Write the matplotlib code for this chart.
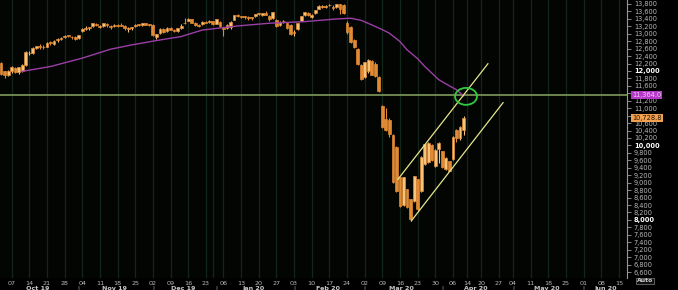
import numpy as np
import pandas as pd
import matplotlib
matplotlib.use("Agg")
import matplotlib.pyplot as plt
from matplotlib.patches import Ellipse, Rectangle

# trading days (Xetra calendar), first candle 2019-10-02
holidays = ["2019-12-24", "2019-12-25", "2019-12-26", "2019-12-31", "2020-01-01",
            "2020-04-10", "2020-04-13", "2020-05-01"]
all_days = pd.bdate_range("2019-10-02", "2020-06-30")
all_days = all_days[~all_days.isin(pd.to_datetime(holidays))]

# --- daily candles, Oct 02 2019 .. Apr 09 2020 ---
opens = [12220, 11990, 11900, 11990, 12090, 11960, 12000, 12150, 12480, 12470,
         12620, 12680, 12650, 12650, 12760, 12730, 12820, 12860, 12900, 12950,
         12920, 12920, 12890, 13080, 13140, 13150, 13220, 13270, 13180, 13210,
         13260, 13200, 13200, 13230, 13240, 13210, 13130, 13160, 13200, 13250,
         13240, 13280, 13250, 13240, 12900, 13020, 13140, 13080, 13150, 13100,
         13080, 13150, 13300, 13350, 13400, 13290, 13230, 13250, 13320, 13320,
         13330, 13270, 13320, 13140, 13150, 13180, 13380, 13500, 13480, 13460,
         13440, 13440, 13480, 13530, 13510, 13560, 13490, 13420, 13380, 13230,
         13330, 13300, 13230, 13010, 13120, 13350, 13500, 13560, 13460, 13560,
         13670, 13720, 13730, 13770, 13730, 13720, 13790, 13770, 13300, 13180,
         12830, 12600, 12160, 11830, 12000, 12280, 12200, 11840, 11050, 10700,
         10680, 10280, 9950, 9140, 8400, 8820, 8550, 8500, 9090, 8770,
         9500, 9550, 10020, 9450, 9900, 9840, 9380, 9570, 9630, 10420,
         10200, 10420]
highs = [12240, 12010, 12030, 12130, 12120, 12110, 12180, 12550, 12530, 12650,
         12680, 12730, 12690, 12770, 12800, 12820, 12890, 12900, 12960, 12970,
         12950, 12950, 12980, 13150, 13200, 13190, 13300, 13290, 13230, 13300,
         13280, 13240, 13250, 13270, 13300, 13240, 13170, 13190, 13260, 13270,
         13300, 13300, 13270, 13270, 13000, 13150, 13160, 13180, 13170, 13130,
         13150, 13250, 13420, 13425, 13410, 13310, 13260, 13330, 13340, 13370,
         13340, 13390, 13340, 13170, 13250, 13330, 13500, 13530, 13490, 13490,
         13470, 13460, 13540, 13560, 13560, 13600, 13510, 13590, 13390, 13340,
         13370, 13320, 13250, 13100, 13300, 13490, 13590, 13580, 13520, 13640,
         13760, 13760, 13760, 13800, 13760, 13800, 13800, 13790, 13350, 13200,
         12850, 12620, 12180, 12250, 12310, 12300, 12230, 11860, 11080, 11000,
         10750, 10300, 9990, 9160, 9160, 8840, 8560, 9180, 9100, 9720,
         10050, 10080, 10040, 9900, 10080, 9860, 9680, 9590, 10250, 10440,
         10520, 10780]
lows = [11900, 11820, 11870, 11950, 11940, 11930, 11980, 12130, 12420, 12450,
        12580, 12600, 12590, 12640, 12700, 12700, 12780, 12820, 12880, 12900,
        12860, 12840, 12860, 13060, 13110, 13110, 13190, 13200, 13150, 13190,
        13190, 13140, 13180, 13190, 13200, 13110, 13050, 13100, 13180, 13210,
        13220, 13230, 13200, 12950, 12860, 13000, 13030, 13060, 13090, 13040,
        13060, 13120, 13250, 13330, 13280, 13210, 13170, 13230, 13280, 13300,
        13230, 13260, 13180, 12950, 13130, 13140, 13370, 13460, 13420, 13400,
        13380, 13380, 13460, 13500, 13470, 13500, 13330, 13400, 13180, 13200,
        13290, 13120, 12970, 12950, 13110, 13330, 13480, 13480, 13430, 13540,
        13660, 13680, 13700, 13740, 13630, 13700, 13540, 13540, 13000, 12750,
        12620, 12160, 11760, 11800, 11940, 11880, 11830, 11430, 10470, 10380,
        10230, 8980, 8760, 8340, 8380, 8320, 7970, 8470, 8240, 8750,
        9470, 9520, 9570, 9430, 9520, 9390, 9340, 9300, 9610, 10100,
        10150, 10280]
closes = [11925, 11880, 12013, 12097, 11970, 12094, 12164, 12512, 12486, 12630,
          12670, 12654, 12634, 12748, 12754, 12799, 12872, 12895, 12941, 12940,
          12910, 12867, 12961, 13136, 13148, 13179, 13289, 13228, 13198, 13283,
          13230, 13180, 13241, 13207, 13221, 13160, 13137, 13163, 13246, 13236,
          13287, 13245, 13236, 12965, 12989, 13141, 13055, 13167, 13106, 13071,
          13145, 13221, 13283, 13407, 13288, 13222, 13212, 13319, 13300, 13337,
          13249, 13386, 13219, 13127, 13227, 13321, 13495, 13483, 13452, 13456,
          13432, 13430, 13526, 13549, 13556, 13515, 13388, 13577, 13205, 13324,
          13345, 13158, 12982, 13046, 13282, 13479, 13575, 13514, 13494, 13627,
          13750, 13745, 13744, 13784, 13682, 13789, 13665, 13560, 13050, 12770,
          12640, 12180, 11780, 12230, 12290, 11900, 11860, 11450, 10500, 10420,
          10300, 9010, 8780, 8370, 9140, 8340, 8020, 9170, 8300, 9700,
          10030, 10070, 9600, 9890, 10060, 9410, 9660, 9320, 10240, 10200,
          10500, 10730]

ma_idx = [6, 14, 23, 31, 37, 44, 51, 57, 67, 76, 86, 95, 99, 102, 105, 108, 110,
          113, 115, 118, 120, 124, 127, 129, 131]
ma_val = [11990, 12120, 12345, 12585, 12700, 12818, 12925, 13100, 13210, 13283,
          13326, 13398, 13417, 13360, 13238, 13110, 13015, 12790, 12569, 12330,
          12122, 11765, 11600, 11498, 11330]

level = 11364          # horizontal line
last_label = "10,728.8"
level_label = "11,364.0"
chan_upper = [(112.4, 9089), (137.9, 12194)]
chan_lower = [(116.2, 7973), (142.2, 11150)]
circle_at = (131.7, 11318)

n = len(closes)
x = np.arange(n)
ix0 = 3  # Oct 07

fig = plt.figure(figsize=(6.78, 2.90), dpi=100, facecolor="black")
ax = fig.add_axes([0, 12 / 290, 627 / 678, 278 / 290])
ax.set_facecolor("#020502")
ax.set_xlim(ix0 - 3.3, ix0 + 174.3)
ax.set_ylim(6439, 13907)

# weekly ticks / grid
week_pos, week_lab = [], []
prev = None
for k, d in enumerate(all_days):
    if prev is not None and d.weekday() < prev.weekday():
        week_pos.append(k)
        week_lab.append(d.strftime("%d"))
    prev = d
for p in week_pos:
    ax.axvline(p, color="#13261a", lw=0.9, zorder=0)

# candles
up_c, dn_c = "#f7c37a", "#e08a34"
for i in range(n):
    o, h, l, c = opens[i], highs[i], lows[i], closes[i]
    col = up_c if c >= o else dn_c
    ax.vlines(x[i], l, h, color=col, lw=0.8, zorder=3)
    ax.add_patch(Rectangle((x[i] - 0.4, min(o, c)), 0.8, max(abs(c - o), 15),
                           facecolor=col, edgecolor=dn_c, lw=0.5, zorder=4))

ax.plot(ma_idx, ma_val, color="#9b3fa6", lw=1.0, zorder=5)
ax.axhline(level, color="#7f9a5a", lw=1.2, zorder=2)
for seg in (chan_upper, chan_lower):
    ax.plot([seg[0][0], seg[1][0]], [seg[0][1], seg[1][1]],
            color="#e6e68a", lw=0.9, zorder=6)
ax.add_patch(Ellipse(circle_at, 6.2, 455, fill=False,
                     edgecolor="#2ecc40", lw=1.3, zorder=7))

# right price axis
ax.spines[:].set_visible(False)
ax.spines["right"].set_visible(True)
ax.spines["right"].set_color("#9a9a9a")
ax.yaxis.tick_right()
yt = np.arange(6600, 13801, 200)
hidden = (11400, 10800)   # covered by the value tags
ax.set_yticks(yt)
ax.set_yticklabels(["" if v in hidden else f"{v:,}" for v in yt])
ax.tick_params(axis="y", colors="#9a9a9a", length=3, width=0.6, pad=2,
               labelsize=4.8, labelcolor="#b8b8b8")
for t, v in zip(ax.get_yticklabels(), yt):
    if v % 2000 == 0:
        t.set_color("white")
        t.set_fontweight("bold")
ax.set_xticks([])

# value tags on the price axis
tr = ax.get_yaxis_transform()
ax.text(1.008, level, level_label, transform=tr, fontsize=4.8, color="#e8d0f0",
        va="center", ha="left", zorder=10,
        bbox=dict(boxstyle="square,pad=0.15", fc="#b638c8", ec="none"))
ax.text(1.008, closes[-1], last_label, transform=tr, fontsize=4.8, color="#2a1500",
        va="center", ha="left", zorder=10,
        bbox=dict(boxstyle="square,pad=0.15", fc="#f0a050", ec="none"))
fig.text(637 / 678, 1 - 281 / 290, "Auto", fontsize=4.4, color="#d0d0d0",
         fontweight="bold", va="center", ha="left",
         bbox=dict(boxstyle="square,pad=0.15", fc="#101010", ec="#808080", lw=0.5))

# date labels: day numbers then months
btr = ax.get_xaxis_transform()
xmax = ax.get_xlim()[1]
last = -10
for p, lab in zip(week_pos, week_lab):
    if p - last < 3:
        continue
    last = p
    if p < xmax - 1:
        ax.text(p, -0.018, lab, transform=btr, fontsize=4.6, color="#b8b8b8",
                ha="center", va="center", clip_on=False)
months = pd.Series(range(len(all_days)), index=all_days)
for key, grp in months.groupby([all_days.year, all_days.month]):
    start = grp.iloc[0]
    if start > 0:
        ax.text(start, -0.037, "|", transform=btr, fontsize=4, color="#b8b8b8",
                ha="center", va="center", clip_on=False)
    mid = (start + min(grp.iloc[-1], xmax)) / 2
    if mid < xmax:
        lab = grp.index[0].strftime("%b %y")
        ax.text(mid, -0.037, lab, transform=btr, fontsize=4.6, color="#c8c8c8",
                fontweight="bold", ha="center", va="center", clip_on=False)

fig.savefig("out.png", dpi=100, facecolor="black")
